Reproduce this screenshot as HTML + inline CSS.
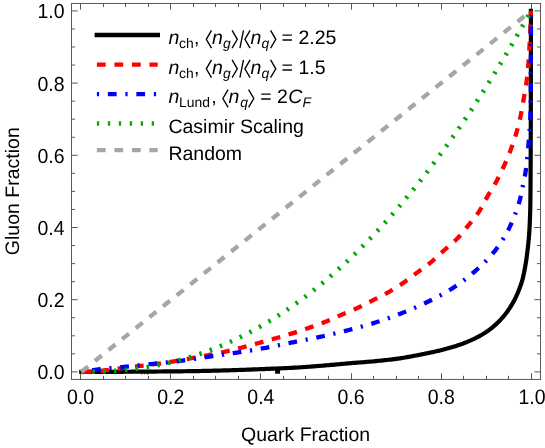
<!DOCTYPE html>
<html><head><meta charset="utf-8"><title>ROC</title>
<style>html,body{margin:0;padding:0;background:#fff;}body{width:545px;height:448px;position:relative;overflow:hidden;font-family:"Liberation Sans",sans-serif;}</style>
</head><body>
<svg width="545" height="448" viewBox="0 0 545 448" style="position:absolute;left:0;top:0">
<rect width="545" height="448" fill="#fff"/>
<g fill="none" stroke-width="4.3" stroke-linejoin="round">
<path d="M81.30 371.90 L83.17 371.90 L85.03 371.90 L86.90 371.90 L88.76 371.90 L90.63 371.89 L92.49 371.89 L94.36 371.89 L96.22 371.88 L98.09 371.88 L99.95 371.87 L101.82 371.87 L103.68 371.86 L105.55 371.85 L107.41 371.85 L109.28 371.84 L111.14 371.83 L113.01 371.82 L114.87 371.81 L116.74 371.81 L118.60 371.80 L120.47 371.79 L122.33 371.78 L124.20 371.76 L126.06 371.75 L127.93 371.74 L129.79 371.73 L131.66 371.72 L133.52 371.70 L135.39 371.69 L137.25 371.68 L139.12 371.66 L140.98 371.65 L142.85 371.64 L144.71 371.62 L146.58 371.61 L148.44 371.59 L150.30 371.58 L152.17 371.56 L154.03 371.54 L155.90 371.53 L157.76 371.51 L159.63 371.49 L161.49 371.48 L163.36 371.46 L165.22 371.44 L167.09 371.43 L168.95 371.41 L170.82 371.39 L172.68 371.37 L174.54 371.35 L176.41 371.34 L178.27 371.32 L180.14 371.30 L182.00 371.28 L183.87 371.26 L185.73 371.23 L187.60 371.21 L189.46 371.18 L191.33 371.16 L193.19 371.13 L195.05 371.10 L196.92 371.06 L198.78 371.03 L200.65 370.99 L202.51 370.96 L204.38 370.92 L206.24 370.88 L208.11 370.84 L209.97 370.79 L211.84 370.75 L213.70 370.70 L215.57 370.66 L217.43 370.61 L219.30 370.56 L221.16 370.51 L223.03 370.46 L224.89 370.40 L226.75 370.35 L228.62 370.29 L230.48 370.23 L232.35 370.18 L234.21 370.12 L236.08 370.06 L237.94 369.99 L239.81 369.93 L241.67 369.87 L243.53 369.80 L245.40 369.74 L247.26 369.67 L249.13 369.60 L250.99 369.53 L252.85 369.46 L254.72 369.39 L256.58 369.32 L258.45 369.25 L260.31 369.18 L262.17 369.10 L264.04 369.03 L265.90 368.95 L267.76 368.87 L269.63 368.79 L271.49 368.72 L273.35 368.64 L275.22 368.56 L277.08 368.48 L278.94 368.40 L280.80 368.31 L282.67 368.23 L284.53 368.15 L286.39 368.06 L288.25 367.98 L290.11 367.89 L291.98 367.81 L293.84 367.71 L295.70 367.60 L297.56 367.49 L299.42 367.38 L301.28 367.25 L303.14 367.13 L305.00 367.00 L306.87 366.86 L308.73 366.73 L310.59 366.59 L312.45 366.44 L314.31 366.30 L316.17 366.16 L318.02 366.01 L319.88 365.87 L321.74 365.73 L323.60 365.58 L325.46 365.43 L327.32 365.27 L329.18 365.11 L331.03 364.95 L332.89 364.79 L334.75 364.62 L336.61 364.45 L338.46 364.28 L340.32 364.11 L342.18 363.94 L344.04 363.78 L345.89 363.61 L347.75 363.44 L349.61 363.28 L351.47 363.12 L353.33 362.96 L355.19 362.81 L357.04 362.66 L358.90 362.51 L360.76 362.37 L362.62 362.22 L364.48 362.08 L366.34 361.93 L368.20 361.78 L370.06 361.63 L371.92 361.47 L373.77 361.31 L375.63 361.14 L377.49 360.96 L379.34 360.78 L381.20 360.59 L383.05 360.39 L384.91 360.19 L386.76 359.99 L388.62 359.77 L390.47 359.55 L392.32 359.33 L394.17 359.09 L396.02 358.85 L397.87 358.60 L399.71 358.34 L401.56 358.07 L403.40 357.78 L405.24 357.48 L407.07 357.17 L408.91 356.84 L410.75 356.50 L412.58 356.16 L414.41 355.81 L416.25 355.45 L418.08 355.08 L419.90 354.72 L421.73 354.35 L423.56 353.99 L425.39 353.62 L427.22 353.24 L429.05 352.86 L430.87 352.48 L432.70 352.09 L434.52 351.68 L436.34 351.27 L438.16 350.85 L439.97 350.42 L441.78 349.97 L443.58 349.51 L445.38 349.03 L447.18 348.55 L448.99 348.05 L450.79 347.53 L452.59 347.01 L454.38 346.46 L456.17 345.90 L457.95 345.32 L459.72 344.73 L461.48 344.11 L463.22 343.47 L464.95 342.81 L466.66 342.13 L468.38 341.42 L470.09 340.68 L471.80 339.91 L473.51 339.11 L475.21 338.28 L476.89 337.42 L478.56 336.54 L480.21 335.63 L481.84 334.70 L483.44 333.74 L485.02 332.76 L486.56 331.75 L488.07 330.72 L489.55 329.65 L491.03 328.53 L492.48 327.36 L493.92 326.15 L495.33 324.89 L496.72 323.61 L498.08 322.29 L499.40 320.94 L500.69 319.58 L501.95 318.20 L503.16 316.80 L504.33 315.40 L505.48 313.95 L506.61 312.47 L507.71 310.95 L508.78 309.41 L509.83 307.84 L510.84 306.25 L511.82 304.65 L512.77 303.03 L513.69 301.41 L514.57 299.77 L515.40 298.12 L516.20 296.44 L516.97 294.73 L517.70 293.00 L518.40 291.27 L519.08 289.54 L519.75 287.79 L520.41 286.04 L521.05 284.28 L521.63 282.51 L522.16 280.72 L522.61 278.93 L523.05 277.13 L523.46 275.31 L523.86 273.49 L524.24 271.67 L524.60 269.84 L524.95 268.00 L525.28 266.16 L525.60 264.31 L525.91 262.46 L526.19 260.61 L526.47 258.76 L526.72 256.91 L526.97 255.06 L527.20 253.22 L527.42 251.37 L527.63 249.52 L527.85 247.67 L528.05 245.81 L528.25 243.96 L528.44 242.10 L528.62 240.24 L528.79 238.38 L528.95 236.52 L529.10 234.66 L529.24 232.80 L529.36 230.94 L529.47 229.08 L529.57 227.21 L529.66 225.35 L529.74 223.49 L529.81 221.63 L529.89 219.77 L529.96 217.90 L530.02 216.04 L530.09 214.17 L530.14 212.31 L530.20 210.44 L530.25 208.58 L530.29 206.71 L530.33 204.85 L530.36 202.98 L530.39 201.12 L530.41 199.25 L530.43 197.39 L530.45 195.53 L530.46 193.66 L530.48 191.80 L530.50 189.93 L530.51 188.07 L530.52 186.20 L530.54 184.34 L530.55 182.47 L530.56 180.61 L530.58 178.74 L530.59 176.88 L530.60 175.01 L530.61 173.15 L530.62 171.28 L530.63 169.42 L530.63 167.55 L530.64 165.69 L530.65 163.82 L530.66 161.96 L530.67 160.09 L530.67 158.23 L530.68 156.36 L530.69 154.50 L530.69 152.63 L530.70 150.77 L530.70 148.90 L530.71 147.04 L530.72 145.17 L530.72 143.31 L530.73 141.44 L530.73 139.58 L530.74 137.71 L530.74 135.85 L530.75 133.98 L530.76 132.12 L530.76 130.25 L530.77 128.39 L530.77 126.52 L530.78 124.66 L530.78 122.79 L530.79 120.93 L530.79 119.06 L530.80 117.20 L530.80 115.33 L530.81 113.47 L530.81 111.60 L530.82 109.74 L530.82 107.87 L530.83 106.01 L530.83 104.15 L530.83 102.28 L530.84 100.42 L530.84 98.55 L530.85 96.69 L530.85 94.82 L530.85 92.96 L530.86 91.09 L530.86 89.23 L530.86 87.36 L530.87 85.50 L530.87 83.63 L530.87 81.77 L530.88 79.90 L530.88 78.04 L530.88 76.17 L530.88 74.31 L530.89 72.44 L530.89 70.58 L530.89 68.71 L530.89 66.85 L530.89 64.98 L530.90 63.12 L530.90 61.25 L530.90 59.39 L530.90 57.52 L530.90 55.66 L530.90 53.79 L530.90 51.93 L530.90 50.06 L530.90 48.20 L530.90 46.33 L530.90 44.47 L530.90 42.60 L530.90 40.74 L530.90 38.87 L530.90 37.01 L530.90 35.14 L530.90 33.28 L530.90 31.41 L530.90 29.55 L530.90 27.68 L530.90 25.82 L530.90 23.95 L530.90 22.09 L530.90 20.22 L530.90 18.36 L530.90 16.49 L530.90 14.63 L530.90 12.76 L530.90 10.90" stroke="#000" stroke-width="4.2" stroke-linecap="square"/>
<path d="M81.30 371.90 L82.94 371.86 L84.57 371.82 L86.21 371.76 L87.84 371.70 L89.47 371.62 L91.11 371.55 L92.74 371.46 L94.37 371.36 L95.99 371.24 L97.62 371.10 L99.25 370.95 L100.87 370.78 L102.50 370.61 L104.12 370.42 L105.75 370.22 L107.37 370.02 L108.99 369.81 L110.62 369.59 L112.24 369.38 L113.86 369.16 L115.48 368.93 L117.11 368.71 L118.73 368.50 L120.35 368.28 L121.97 368.07 L123.60 367.87 L125.22 367.67 L126.85 367.48 L128.47 367.29 L130.09 367.11 L131.72 366.92 L133.34 366.73 L134.97 366.54 L136.59 366.36 L138.22 366.17 L139.84 365.98 L141.47 365.79 L143.09 365.60 L144.72 365.41 L146.34 365.21 L147.96 365.01 L149.58 364.81 L151.21 364.60 L152.83 364.40 L154.45 364.18 L156.07 363.97 L157.69 363.74 L159.31 363.52 L160.92 363.28 L162.54 363.05 L164.16 362.80 L165.77 362.56 L167.39 362.31 L169.00 362.05 L170.62 361.79 L172.23 361.53 L173.85 361.27 L175.46 361.00 L177.07 360.73 L178.69 360.45 L180.30 360.17 L181.91 359.90 L183.52 359.62 L185.13 359.34 L186.74 359.05 L188.35 358.77 L189.96 358.48 L191.57 358.20 L193.18 357.91 L194.79 357.63 L196.40 357.34 L198.01 357.05 L199.62 356.76 L201.23 356.46 L202.84 356.17 L204.45 355.87 L206.06 355.57 L207.67 355.26 L209.27 354.96 L210.88 354.65 L212.49 354.33 L214.09 354.01 L215.69 353.69 L217.29 353.37 L218.90 353.03 L220.49 352.70 L222.09 352.36 L223.69 352.01 L225.28 351.66 L226.88 351.30 L228.47 350.93 L230.06 350.56 L231.65 350.17 L233.23 349.78 L234.82 349.39 L236.40 348.98 L237.99 348.58 L239.57 348.16 L241.15 347.75 L242.73 347.33 L244.31 346.90 L245.89 346.47 L247.47 346.04 L249.05 345.61 L250.63 345.18 L252.21 344.75 L253.78 344.31 L255.36 343.88 L256.94 343.45 L258.52 343.01 L260.09 342.58 L261.67 342.15 L263.25 341.72 L264.82 341.29 L266.40 340.85 L267.98 340.42 L269.55 339.98 L271.13 339.54 L272.70 339.10 L274.28 338.66 L275.85 338.22 L277.43 337.77 L279.00 337.32 L280.57 336.86 L282.14 336.41 L283.71 335.95 L285.28 335.48 L286.84 335.02 L288.41 334.55 L289.97 334.07 L291.54 333.59 L293.10 333.11 L294.66 332.62 L296.21 332.12 L297.77 331.61 L299.32 331.10 L300.87 330.58 L302.42 330.06 L303.97 329.53 L305.52 329.00 L307.06 328.47 L308.61 327.93 L310.15 327.40 L311.70 326.86 L313.24 326.32 L314.78 325.77 L316.33 325.22 L317.86 324.67 L319.40 324.11 L320.93 323.54 L322.46 322.96 L323.99 322.38 L325.51 321.78 L327.02 321.16 L328.53 320.53 L330.03 319.88 L331.53 319.23 L333.02 318.57 L334.51 317.90 L336.01 317.23 L337.50 316.55 L338.99 315.89 L340.49 315.23 L341.99 314.58 L343.49 313.93 L345.00 313.30 L346.51 312.67 L348.02 312.04 L349.53 311.41 L351.04 310.77 L352.55 310.14 L354.05 309.49 L355.55 308.84 L357.04 308.18 L358.52 307.50 L360.00 306.80 L361.48 306.10 L362.94 305.38 L364.41 304.65 L365.87 303.91 L367.33 303.17 L368.79 302.43 L370.24 301.68 L371.69 300.93 L373.15 300.18 L374.60 299.44 L376.06 298.69 L377.52 297.95 L378.98 297.21 L380.44 296.46 L381.89 295.71 L383.34 294.95 L384.78 294.19 L386.22 293.41 L387.65 292.62 L389.07 291.82 L390.48 291.00 L391.89 290.17 L393.29 289.32 L394.69 288.47 L396.08 287.60 L397.46 286.73 L398.84 285.84 L400.21 284.95 L401.57 284.04 L402.92 283.13 L404.27 282.20 L405.60 281.25 L406.92 280.29 L408.23 279.32 L409.54 278.33 L410.84 277.34 L412.13 276.34 L413.43 275.34 L414.73 274.35 L416.03 273.35 L417.34 272.37 L418.65 271.40 L419.98 270.43 L421.30 269.48 L422.63 268.52 L423.96 267.56 L425.28 266.59 L426.59 265.62 L427.90 264.63 L429.19 263.63 L430.46 262.61 L431.72 261.57 L432.95 260.51 L434.18 259.43 L435.40 258.34 L436.60 257.24 L437.81 256.13 L439.01 255.01 L440.20 253.89 L441.40 252.78 L442.61 251.67 L443.82 250.57 L445.04 249.49 L446.28 248.41 L447.52 247.34 L448.77 246.27 L450.02 245.21 L451.26 244.14 L452.49 243.06 L453.71 241.97 L454.90 240.86 L456.08 239.73 L457.22 238.58 L458.34 237.40 L459.44 236.19 L460.52 234.97 L461.58 233.73 L462.63 232.47 L463.67 231.20 L464.70 229.92 L465.72 228.64 L466.75 227.36 L467.77 226.08 L468.80 224.81 L469.83 223.54 L470.87 222.27 L471.91 221.00 L472.95 219.73 L473.98 218.45 L475.00 217.16 L476.00 215.87 L476.97 214.56 L477.92 213.24 L478.84 211.90 L479.72 210.54 L480.57 209.15 L481.39 207.74 L482.18 206.31 L482.96 204.87 L483.72 203.42 L484.48 201.97 L485.24 200.51 L486.01 199.06 L486.78 197.62 L487.58 196.19 L488.40 194.77 L489.24 193.37 L490.09 191.97 L490.95 190.58 L491.82 189.18 L492.68 187.79 L493.54 186.40 L494.38 185.00 L495.21 183.59 L496.01 182.17 L496.79 180.74 L497.55 179.30 L498.30 177.84 L499.04 176.39 L499.77 174.92 L500.49 173.45 L501.19 171.97 L501.89 170.49 L502.58 169.00 L503.26 167.52 L503.93 166.03 L504.60 164.53 L505.26 163.04 L505.91 161.54 L506.56 160.04 L507.20 158.53 L507.83 157.02 L508.45 155.50 L509.06 153.99 L509.66 152.47 L510.25 150.94 L510.82 149.41 L511.39 147.88 L511.95 146.34 L512.50 144.80 L513.05 143.26 L513.58 141.71 L514.11 140.16 L514.62 138.61 L515.12 137.05 L515.61 135.49 L516.08 133.93 L516.54 132.36 L516.98 130.79 L517.42 129.21 L517.84 127.63 L518.26 126.05 L518.66 124.46 L519.05 122.87 L519.43 121.28 L519.80 119.69 L520.16 118.09 L520.50 116.50 L520.83 114.90 L521.15 113.29 L521.45 111.69 L521.75 110.08 L522.03 108.47 L522.32 106.86 L522.60 105.24 L522.87 103.63 L523.15 102.02 L523.43 100.41 L523.71 98.80 L524.00 97.19 L524.30 95.58 L524.59 93.97 L524.88 92.36 L525.17 90.75 L525.45 89.13 L525.72 87.52 L525.97 85.91 L526.21 84.29 L526.44 82.67 L526.64 81.05 L526.84 79.43 L527.03 77.81 L527.22 76.18 L527.39 74.56 L527.56 72.93 L527.72 71.30 L527.88 69.67 L528.03 68.04 L528.17 66.41 L528.30 64.79 L528.43 63.16 L528.55 61.53 L528.67 59.89 L528.78 58.26 L528.88 56.63 L528.99 55.00 L529.09 53.37 L529.18 51.73 L529.28 50.10 L529.37 48.47 L529.47 46.84 L529.56 45.20 L529.65 43.57 L529.74 41.94 L529.83 40.31 L529.91 38.67 L530.00 37.04 L530.07 35.41 L530.15 33.77 L530.22 32.14 L530.28 30.51 L530.34 28.87 L530.39 27.24 L530.44 25.60 L530.47 23.97 L530.51 22.33 L530.55 20.70 L530.59 19.06 L530.64 17.43 L530.70 15.79 L530.76 14.16 L530.86 12.53 L531.00 10.90" stroke="#ff0000" stroke-dasharray="8.76 8.70" stroke-dashoffset="-1.6"/>
<path d="M81.30 371.90 L83.00 371.62 L84.70 371.34 L86.40 371.07 L88.10 370.81 L89.80 370.55 L91.51 370.30 L93.21 370.07 L94.92 369.85 L96.62 369.64 L98.33 369.44 L100.04 369.25 L101.75 369.06 L103.46 368.88 L105.17 368.71 L106.89 368.54 L108.60 368.37 L110.31 368.21 L112.03 368.05 L113.74 367.88 L115.46 367.72 L117.17 367.56 L118.89 367.40 L120.60 367.24 L122.31 367.07 L124.03 366.90 L125.74 366.72 L127.45 366.55 L129.16 366.37 L130.87 366.20 L132.59 366.02 L134.30 365.84 L136.01 365.67 L137.72 365.49 L139.43 365.31 L141.15 365.13 L142.86 364.95 L144.57 364.77 L146.28 364.59 L147.99 364.41 L149.70 364.23 L151.42 364.05 L153.13 363.86 L154.84 363.68 L156.55 363.49 L158.26 363.31 L159.97 363.13 L161.68 362.95 L163.40 362.77 L165.11 362.59 L166.82 362.40 L168.53 362.22 L170.24 362.03 L171.95 361.84 L173.66 361.65 L175.37 361.46 L177.08 361.26 L178.79 361.05 L180.50 360.85 L182.21 360.64 L183.92 360.42 L185.62 360.20 L187.33 359.97 L189.03 359.73 L190.73 359.48 L192.44 359.23 L194.14 358.98 L195.84 358.73 L197.54 358.47 L199.25 358.21 L200.95 357.95 L202.65 357.69 L204.35 357.43 L206.05 357.18 L207.76 356.92 L209.46 356.67 L211.16 356.43 L212.87 356.18 L214.57 355.94 L216.27 355.70 L217.98 355.46 L219.68 355.21 L221.39 354.97 L223.09 354.73 L224.79 354.48 L226.50 354.24 L228.20 353.99 L229.90 353.74 L231.61 353.49 L233.31 353.23 L235.01 352.97 L236.71 352.71 L238.41 352.44 L240.11 352.17 L241.81 351.90 L243.51 351.63 L245.21 351.36 L246.91 351.08 L248.61 350.80 L250.31 350.52 L252.00 350.24 L253.70 349.95 L255.40 349.66 L257.09 349.37 L258.79 349.08 L260.49 348.78 L262.18 348.48 L263.87 348.17 L265.56 347.86 L267.26 347.54 L268.95 347.22 L270.63 346.89 L272.32 346.56 L274.01 346.22 L275.70 345.87 L277.38 345.53 L279.07 345.18 L280.75 344.83 L282.44 344.48 L284.13 344.13 L285.81 343.78 L287.50 343.43 L289.18 343.08 L290.87 342.73 L292.55 342.39 L294.24 342.05 L295.93 341.71 L297.62 341.38 L299.31 341.05 L301.00 340.72 L302.69 340.38 L304.38 340.05 L306.06 339.72 L307.75 339.39 L309.44 339.05 L311.13 338.72 L312.82 338.38 L314.50 338.03 L316.19 337.68 L317.87 337.33 L319.55 336.97 L321.24 336.60 L322.92 336.23 L324.60 335.86 L326.28 335.48 L327.95 335.10 L329.63 334.71 L331.31 334.32 L332.98 333.93 L334.66 333.53 L336.33 333.13 L338.01 332.73 L339.68 332.32 L341.35 331.90 L343.02 331.49 L344.69 331.07 L346.36 330.64 L348.02 330.22 L349.69 329.79 L351.36 329.35 L353.02 328.92 L354.69 328.48 L356.35 328.04 L358.01 327.59 L359.68 327.14 L361.34 326.68 L363.00 326.22 L364.66 325.75 L366.31 325.28 L367.97 324.80 L369.62 324.32 L371.27 323.83 L372.91 323.33 L374.55 322.82 L376.19 322.31 L377.83 321.78 L379.46 321.25 L381.10 320.71 L382.73 320.16 L384.36 319.60 L385.98 319.04 L387.61 318.46 L389.23 317.88 L390.85 317.29 L392.47 316.70 L394.08 316.10 L395.70 315.49 L397.31 314.88 L398.91 314.26 L400.52 313.64 L402.12 313.01 L403.71 312.37 L405.31 311.74 L406.90 311.09 L408.50 310.43 L410.09 309.77 L411.67 309.10 L413.26 308.43 L414.84 307.74 L416.42 307.05 L418.00 306.35 L419.57 305.65 L421.14 304.93 L422.70 304.21 L424.26 303.48 L425.81 302.75 L427.36 302.00 L428.91 301.25 L430.45 300.49 L431.99 299.73 L433.53 298.95 L435.07 298.17 L436.61 297.38 L438.14 296.59 L439.67 295.78 L441.19 294.96 L442.70 294.13 L444.21 293.29 L445.70 292.43 L447.19 291.57 L448.66 290.69 L450.12 289.79 L451.57 288.88 L453.01 287.96 L454.44 287.02 L455.86 286.06 L457.28 285.08 L458.70 284.09 L460.10 283.09 L461.50 282.07 L462.89 281.04 L464.27 279.99 L465.64 278.94 L467.00 277.87 L468.35 276.79 L469.69 275.70 L471.02 274.60 L472.34 273.50 L473.65 272.38 L474.94 271.26 L476.22 270.13 L477.50 268.99 L478.77 267.83 L480.05 266.66 L481.31 265.48 L482.57 264.29 L483.82 263.09 L485.06 261.87 L486.29 260.64 L487.50 259.39 L488.69 258.13 L489.86 256.86 L491.01 255.58 L492.13 254.28 L493.23 252.97 L494.30 251.65 L495.34 250.31 L496.37 248.96 L497.38 247.58 L498.38 246.19 L499.37 244.77 L500.34 243.34 L501.30 241.90 L502.24 240.44 L503.16 238.96 L504.07 237.48 L504.95 235.98 L505.82 234.48 L506.66 232.96 L507.48 231.44 L508.27 229.92 L509.04 228.38 L509.78 226.85 L510.50 225.31 L511.21 223.76 L511.91 222.19 L512.60 220.61 L513.27 219.03 L513.93 217.43 L514.58 215.82 L515.21 214.21 L515.82 212.58 L516.41 210.96 L516.99 209.32 L517.54 207.68 L518.07 206.04 L518.58 204.39 L519.07 202.75 L519.54 201.10 L519.98 199.44 L520.39 197.78 L520.77 196.11 L521.14 194.42 L521.49 192.74 L521.83 191.04 L522.17 189.35 L522.51 187.66 L522.85 185.97 L523.19 184.28 L523.55 182.60 L523.90 180.91 L524.26 179.22 L524.60 177.54 L524.92 175.85 L525.23 174.15 L525.50 172.46 L525.75 170.76 L525.98 169.05 L526.19 167.34 L526.39 165.63 L526.58 163.92 L526.76 162.21 L526.94 160.50 L527.12 158.78 L527.29 157.07 L527.46 155.36 L527.63 153.65 L527.79 151.93 L527.95 150.22 L528.10 148.50 L528.25 146.79 L528.40 145.07 L528.55 143.36 L528.69 141.64 L528.83 139.93 L528.97 138.21 L529.11 136.50 L529.24 134.78 L529.37 133.07 L529.49 131.35 L529.61 129.63 L529.73 127.91 L529.84 126.20 L529.96 124.48 L530.07 122.76 L530.17 121.04 L530.27 119.32 L530.34 117.61 L530.40 115.89 L530.45 114.17 L530.50 112.45 L530.54 110.72 L530.58 109.00 L530.62 107.28 L530.65 105.56 L530.67 103.84 L530.69 102.12 L530.71 100.40 L530.72 98.68 L530.73 96.96 L530.74 95.24 L530.75 93.51 L530.76 91.79 L530.77 90.07 L530.78 88.35 L530.79 86.63 L530.79 84.91 L530.80 83.19 L530.81 81.47 L530.81 79.75 L530.82 78.02 L530.83 76.30 L530.83 74.58 L530.84 72.86 L530.84 71.14 L530.85 69.42 L530.85 67.70 L530.86 65.98 L530.86 64.26 L530.87 62.53 L530.87 60.81 L530.87 59.09 L530.88 57.37 L530.88 55.65 L530.89 53.93 L530.89 52.21 L530.90 50.49 L530.90 48.76 L530.91 47.04 L530.91 45.32 L530.92 43.60 L530.92 41.88 L530.93 40.16 L530.93 38.44 L530.94 36.72 L530.94 35.00 L530.95 33.27 L530.95 31.55 L530.96 29.83 L530.96 28.11 L530.97 26.39 L530.97 24.67 L530.97 22.95 L530.98 21.23 L530.98 19.51 L530.99 17.78 L530.99 16.06 L530.99 14.34 L531.00 12.62 L531.00 10.90" stroke="#0000ff" stroke-dasharray="2.2 8.71 8.73 8.70"/>
<path d="M81.30 371.90 L83.56 371.90 L85.82 371.89 L88.08 371.87 L90.34 371.85 L92.60 371.81 L94.86 371.76 L97.12 371.71 L99.38 371.64 L101.64 371.56 L103.90 371.47 L106.16 371.37 L108.42 371.25 L110.68 371.12 L112.94 370.98 L115.20 370.83 L117.46 370.66 L119.72 370.48 L121.98 370.28 L124.24 370.07 L126.50 369.85 L128.76 369.61 L131.02 369.36 L133.28 369.09 L135.54 368.81 L137.79 368.51 L140.05 368.20 L142.31 367.87 L144.57 367.52 L146.83 367.16 L149.09 366.79 L151.35 366.40 L153.61 365.99 L155.87 365.57 L158.13 365.12 L160.39 364.67 L162.65 364.20 L164.91 363.71 L167.17 363.20 L169.43 362.67 L171.69 362.13 L173.95 361.58 L176.21 361.00 L178.47 360.41 L180.73 359.80 L182.99 359.17 L185.25 358.53 L187.51 357.86 L189.77 357.18 L192.03 356.48 L194.29 355.76 L196.55 355.03 L198.81 354.28 L201.07 353.50 L203.33 352.71 L205.59 351.91 L207.85 351.08 L210.11 350.23 L212.37 349.37 L214.63 348.48 L216.89 347.58 L219.15 346.66 L221.41 345.72 L223.67 344.76 L225.93 343.78 L228.19 342.78 L230.45 341.77 L232.71 340.73 L234.97 339.67 L237.23 338.60 L239.49 337.50 L241.75 336.38 L244.01 335.25 L246.27 334.09 L248.53 332.92 L250.78 331.72 L253.04 330.51 L255.30 329.27 L257.56 328.02 L259.82 326.74 L262.08 325.44 L264.34 324.13 L266.60 322.79 L268.86 321.43 L271.12 320.05 L273.38 318.65 L275.64 317.24 L277.90 315.79 L280.16 314.33 L282.42 312.85 L284.68 311.35 L286.94 309.82 L289.20 308.28 L291.46 306.71 L293.72 305.12 L295.98 303.51 L298.24 301.88 L300.50 300.23 L302.76 298.56 L305.02 296.86 L307.28 295.15 L309.54 293.41 L311.80 291.65 L314.06 289.87 L316.32 288.07 L318.58 286.24 L320.84 284.40 L323.10 282.53 L325.36 280.64 L327.62 278.73 L329.88 276.79 L332.14 274.83 L334.40 272.86 L336.66 270.86 L338.92 268.83 L341.18 266.79 L343.44 264.72 L345.70 262.63 L347.96 260.52 L350.22 258.38 L352.48 256.22 L354.74 254.04 L357.00 251.84 L359.26 249.61 L361.52 247.37 L363.77 245.10 L366.03 242.80 L368.29 240.48 L370.55 238.14 L372.81 235.78 L375.07 233.40 L377.33 230.99 L379.59 228.56 L381.85 226.10 L384.11 223.62 L386.37 221.12 L388.63 218.60 L390.89 216.05 L393.15 213.48 L395.41 210.88 L397.67 208.27 L399.93 205.62 L402.19 202.96 L404.45 200.27 L406.71 197.56 L408.97 194.82 L411.23 192.06 L413.49 189.28 L415.75 186.47 L418.01 183.64 L420.27 180.79 L422.53 177.91 L424.79 175.00 L427.05 172.08 L429.31 169.13 L431.57 166.15 L433.83 163.15 L436.09 160.13 L438.35 157.08 L440.61 154.01 L442.87 150.92 L445.13 147.80 L447.39 144.65 L449.65 141.49 L451.91 138.29 L454.17 135.08 L456.43 131.83 L458.69 128.57 L460.95 125.28 L463.21 121.96 L465.47 118.62 L467.73 115.26 L469.99 111.87 L472.25 108.45 L474.51 105.02 L476.76 101.55 L479.02 98.06 L481.28 94.55 L483.54 91.01 L485.80 87.45 L488.06 83.86 L490.32 80.25 L492.58 76.61 L494.84 72.95 L497.10 69.26 L499.36 65.55 L501.62 61.81 L503.88 58.04 L506.14 54.25 L508.40 50.44 L510.66 46.60 L512.92 42.74 L515.18 38.85 L517.44 34.93 L519.70 30.99 L521.96 27.02 L524.22 23.03 L526.48 19.01 L528.74 14.97 L531.00 10.90" stroke="#00a800" stroke-width="4.6" stroke-dasharray="2.4 8.515"/>
<path d="M81.30 371.90 L531.00 10.90" stroke="#a6a6a6" stroke-dasharray="8.76 8.72"/>
</g>
<rect x="275.1" y="369" width="4.9" height="4.7" fill="#000"/>
<path d="M141.2 373.5l0.7 1.4l0.7-1.4zM143.8 373.5l0.6 1.2l0.6-1.2zM146.9 373.5l0.8 1.6l0.8-1.6z" fill="#000"/>
<g stroke="#505050" stroke-width="0.95" fill="none">
<rect x="71.45" y="3.45" width="469.10" height="375.95"/>
<path d="M80.50 379.40V373.20M80.50 3.45V9.65M71.45 371.90H77.65M540.55 371.90H534.35M103.50 379.40V375.80M103.50 3.45V7.05M71.45 353.85H75.05M540.55 353.85H536.95M125.50 379.40V375.80M125.50 3.45V7.05M71.45 335.80H75.05M540.55 335.80H536.95M148.50 379.40V375.80M148.50 3.45V7.05M71.45 317.75H75.05M540.55 317.75H536.95M170.50 379.40V373.20M170.50 3.45V9.65M71.45 299.70H77.65M540.55 299.70H534.35M193.50 379.40V375.80M193.50 3.45V7.05M71.45 281.65H75.05M540.55 281.65H536.95M215.50 379.40V375.80M215.50 3.45V7.05M71.45 263.60H75.05M540.55 263.60H536.95M238.50 379.40V375.80M238.50 3.45V7.05M71.45 245.55H75.05M540.55 245.55H536.95M260.50 379.40V373.20M260.50 3.45V9.65M71.45 227.50H77.65M540.55 227.50H534.35M283.50 379.40V375.80M283.50 3.45V7.05M71.45 209.45H75.05M540.55 209.45H536.95M305.50 379.40V375.80M305.50 3.45V7.05M71.45 191.40H75.05M540.55 191.40H536.95M328.50 379.40V375.80M328.50 3.45V7.05M71.45 173.35H75.05M540.55 173.35H536.95M351.50 379.40V373.20M351.50 3.45V9.65M71.45 155.30H77.65M540.55 155.30H534.35M373.50 379.40V375.80M373.50 3.45V7.05M71.45 137.25H75.05M540.55 137.25H536.95M396.50 379.40V375.80M396.50 3.45V7.05M71.45 119.20H75.05M540.55 119.20H536.95M418.50 379.40V375.80M418.50 3.45V7.05M71.45 101.15H75.05M540.55 101.15H536.95M441.50 379.40V373.20M441.50 3.45V9.65M71.45 83.10H77.65M540.55 83.10H534.35M463.50 379.40V375.80M463.50 3.45V7.05M71.45 65.05H75.05M540.55 65.05H536.95M486.50 379.40V375.80M486.50 3.45V7.05M71.45 47.00H75.05M540.55 47.00H536.95M508.50 379.40V375.80M508.50 3.45V7.05M71.45 28.95H75.05M540.55 28.95H536.95M531.50 379.40V373.20M531.50 3.45V9.65M71.45 10.90H77.65M540.55 10.90H534.35"/>
</g>
<g font-family="Liberation Sans, sans-serif" font-size="19.5" fill="#000" text-rendering="geometricPrecision" style="filter:grayscale(1)">
<text transform="translate(80.50,403.75) scale(1,1.075)" text-anchor="middle">0.0</text>
<text transform="translate(64.50,379.35) scale(1,1.04)" text-anchor="end">0.0</text>
<text transform="translate(170.68,403.75) scale(1,1.075)" text-anchor="middle">0.2</text>
<text transform="translate(64.50,307.15) scale(1,1.04)" text-anchor="end">0.2</text>
<text transform="translate(260.86,403.75) scale(1,1.075)" text-anchor="middle">0.4</text>
<text transform="translate(64.50,234.95) scale(1,1.04)" text-anchor="end">0.4</text>
<text transform="translate(351.04,403.75) scale(1,1.075)" text-anchor="middle">0.6</text>
<text transform="translate(64.50,162.75) scale(1,1.04)" text-anchor="end">0.6</text>
<text transform="translate(441.22,403.75) scale(1,1.075)" text-anchor="middle">0.8</text>
<text transform="translate(64.50,90.55) scale(1,1.04)" text-anchor="end">0.8</text>
<text transform="translate(532.00,403.75) scale(1,1.075)" text-anchor="middle">1.0</text>
<text transform="translate(64.50,18.35) scale(1,1.04)" text-anchor="end">1.0</text>
<text x="305.6" y="440.8" text-anchor="middle">Quark Fraction</text>
<text transform="translate(18.6,191.2) rotate(-90)" text-anchor="middle">Gluon Fraction</text>
</g>
<g fill="none" stroke-width="4.3">
<path d="M96.9 35.0H157.7" stroke="#000" stroke-width="4.6" stroke-linecap="square"/>
<path d="M96.9 64.7H157.7" stroke="#ff0000" stroke-dasharray="8.76 8.76"/>
<path d="M96.9 94.2H157.7" stroke="#0000ff" stroke-dasharray="2.2 8.76 8.76 8.76"/>
<path d="M96.9 123.5H157.7" stroke="#00a800" stroke-width="4.7" stroke-dasharray="2.3 8.66"/>
<path d="M96.9 150.1H157.7" stroke="#a6a6a6" stroke-dasharray="8.76 8.76"/>
</g>
<g font-family="Liberation Sans, sans-serif" font-size="19.5" fill="#000" text-rendering="geometricPrecision" style="filter:grayscale(1)">
<text x="168.40" y="44.00" font-style="italic">n</text>
<text x="179.00" y="48.00" font-size="13.9">ch</text>
<text x="193.90" y="44.00">,</text>
<path d="M211.50 30.40L206.30 39.30L211.50 48.20" fill="none" stroke="#000" stroke-width="1.35" stroke-linejoin="miter"/>
<text x="212.00" y="44.00" font-style="italic">n</text>
<text x="223.00" y="48.00" font-style="italic" font-size="13.9">g</text>
<path d="M232.10 30.40L237.30 39.30L232.10 48.20" fill="none" stroke="#000" stroke-width="1.35" stroke-linejoin="miter"/>
<path d="M243.5 30.40L239.9 48.20" stroke="#000" stroke-width="1.35"/>
<path d="M250.10 30.40L244.90 39.30L250.10 48.20" fill="none" stroke="#000" stroke-width="1.35" stroke-linejoin="miter"/>
<text x="250.40" y="44.00" font-style="italic">n</text>
<text x="261.40" y="48.00" font-style="italic" font-size="13.9">q</text>
<path d="M270.60 30.40L275.80 39.30L270.60 48.20" fill="none" stroke="#000" stroke-width="1.35" stroke-linejoin="miter"/>
<text x="281.60" y="44.00">=</text>
<text x="298.50" y="44.00">2.25</text>
<text x="168.40" y="73.50" font-style="italic">n</text>
<text x="179.00" y="77.50" font-size="13.9">ch</text>
<text x="193.90" y="73.50">,</text>
<path d="M211.50 59.90L206.30 68.80L211.50 77.70" fill="none" stroke="#000" stroke-width="1.35" stroke-linejoin="miter"/>
<text x="212.00" y="73.50" font-style="italic">n</text>
<text x="223.00" y="77.50" font-style="italic" font-size="13.9">g</text>
<path d="M232.10 59.90L237.30 68.80L232.10 77.70" fill="none" stroke="#000" stroke-width="1.35" stroke-linejoin="miter"/>
<path d="M243.5 59.90L239.9 77.70" stroke="#000" stroke-width="1.35"/>
<path d="M250.10 59.90L244.90 68.80L250.10 77.70" fill="none" stroke="#000" stroke-width="1.35" stroke-linejoin="miter"/>
<text x="250.40" y="73.50" font-style="italic">n</text>
<text x="261.40" y="77.50" font-style="italic" font-size="13.9">q</text>
<path d="M270.60 59.90L275.80 68.80L270.60 77.70" fill="none" stroke="#000" stroke-width="1.35" stroke-linejoin="miter"/>
<text x="281.60" y="73.50">=</text>
<text x="298.50" y="73.50">1.5</text>
<text x="168.40" y="103.20" font-style="italic">n</text>
<text x="179.00" y="107.20" font-size="13.9">Lund</text>
<text x="211.20" y="103.20">,</text>
<path d="M228.10 89.60L222.90 98.50L228.10 107.40" fill="none" stroke="#000" stroke-width="1.35" stroke-linejoin="miter"/>
<text x="228.60" y="103.20" font-style="italic">n</text>
<text x="240.20" y="107.20" font-style="italic" font-size="13.9">q</text>
<path d="M248.60 89.60L253.80 98.50L248.60 107.40" fill="none" stroke="#000" stroke-width="1.35" stroke-linejoin="miter"/>
<text x="260.30" y="103.20">=</text>
<text x="277.00" y="103.20">2</text>
<text x="288.30" y="103.20" font-style="italic">C</text>
<text x="302.60" y="107.20" font-style="italic" font-size="13.9">F</text>
<text x="168.40" y="133.00">Casimir Scaling</text>
<text x="168.40" y="160.30">Random</text>
</g>
</svg>
</body></html>
